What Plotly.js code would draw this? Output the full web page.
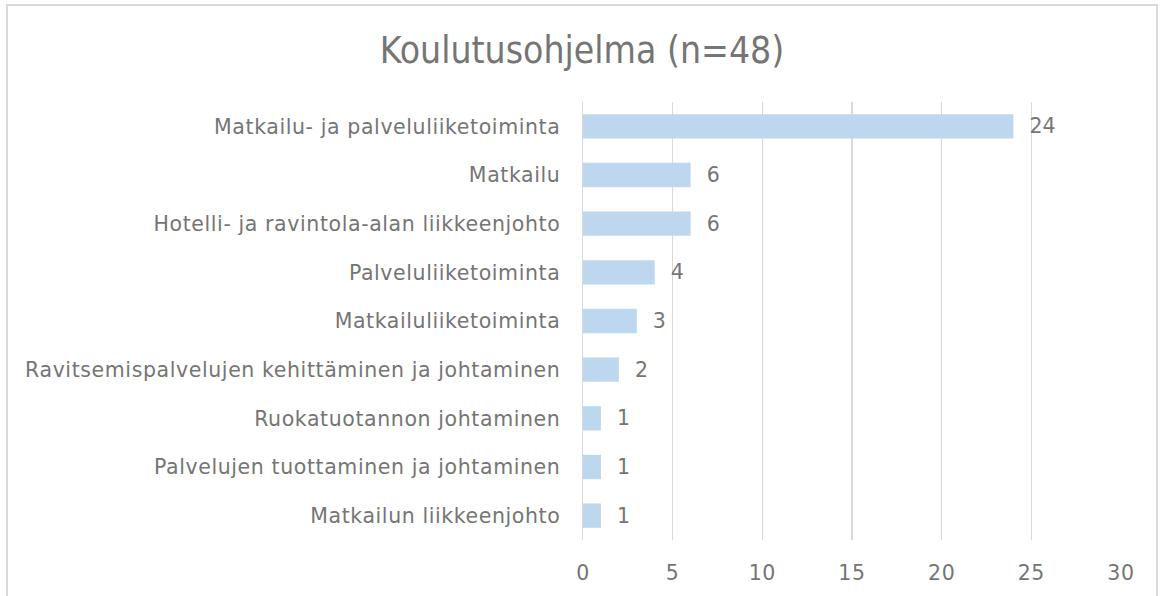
<!DOCTYPE html>
<html>
<head>
<meta charset="utf-8">
<script src="https://cdn.plot.ly/plotly-3.0.1.min.js"></script>
<style>
  html, body { margin: 0; padding: 0; background: #fff; }
  #frame { position: absolute; left: 6px; top: 4px; width: 1152px; height: 620px; border: 2px solid #d9d9d9; box-sizing: border-box; }
  #chart { position: absolute; left: 0; top: 0; width: 1164px; height: 596px; }
  #chart .ytick text, #chart .xtick text, #chart .textpoint text { letter-spacing: 0.6px; }
</style>
</head>
<body>
<div id="frame"></div>
<div id="chart"></div>
<script>
const categories = [
  "Matkailu- ja palveluliiketoiminta",
  "Matkailu",
  "Hotelli- ja ravintola-alan liikkeenjohto",
  "Palveluliiketoiminta",
  "Matkailuliiketoiminta",
  "Ravitsemispalvelujen kehittäminen ja johtaminen",
  "Ruokatuotannon johtaminen",
  "Palvelujen tuottaminen ja johtaminen",
  "Matkailun liikkeenjohto"
];
const values = [24, 6, 6, 4, 3, 2, 1, 1, 1];
const xTicks = [0, 5, 10, 15, 20, 25, 30];

const fontFam = '"DejaVu Sans", sans-serif';
const titleFam = '"DejaVu Sans Condensed", "DejaVu Sans", sans-serif';
const grey = '#757575';

const trace = {
  type: 'bar',
  orientation: 'h',
  y: categories,
  x: values,
  width: 0.5,
  marker: { color: '#bdd7ee' },
  text: values.map(v => '  ' + v),
  textposition: 'outside',
  cliponaxis: false,
  textfont: { family: fontFam, size: 20.5, color: grey },
  hoverinfo: 'skip'
};

const layout = {
  width: 1164, height: 596,
  paper_bgcolor: 'rgba(0,0,0,0)',
  plot_bgcolor: 'rgba(0,0,0,0)',
  margin: { l: 583, r: 43, t: 102, b: 56, pad: 0 },
  showlegend: false,
  title: {
    text: 'Koulutusohjelma (n=48)',
    font: { family: titleFam, size: 37, color: grey },
    x: 0.5, xanchor: 'center', xref: 'container',
    y: 0.916, yanchor: 'middle', yref: 'container'
  },
  xaxis: {
    range: [0, 30],
    tickvals: xTicks,
    ticktext: xTicks.map(String),
    showgrid: true, gridcolor: '#d9d9d9', gridwidth: 1.5,
    zeroline: false,
    showline: false,
    ticks: '',
    ticklabelstandoff: 18,
    tickfont: { family: fontFam, size: 20.5, color: grey },
    fixedrange: true
  },
  yaxis: {
    autorange: 'reversed',
    showgrid: false,
    zeroline: false,
    showline: true, linecolor: '#d9d9d9', linewidth: 1.5,
    ticks: '',
    ticklabelstandoff: 17,
    tickfont: { family: fontFam, size: 20.5, color: grey },
    fixedrange: true
  }
};

Plotly.newPlot('chart', [trace], layout, { displayModeBar: false, staticPlot: true });
</script>
</body>
</html>
